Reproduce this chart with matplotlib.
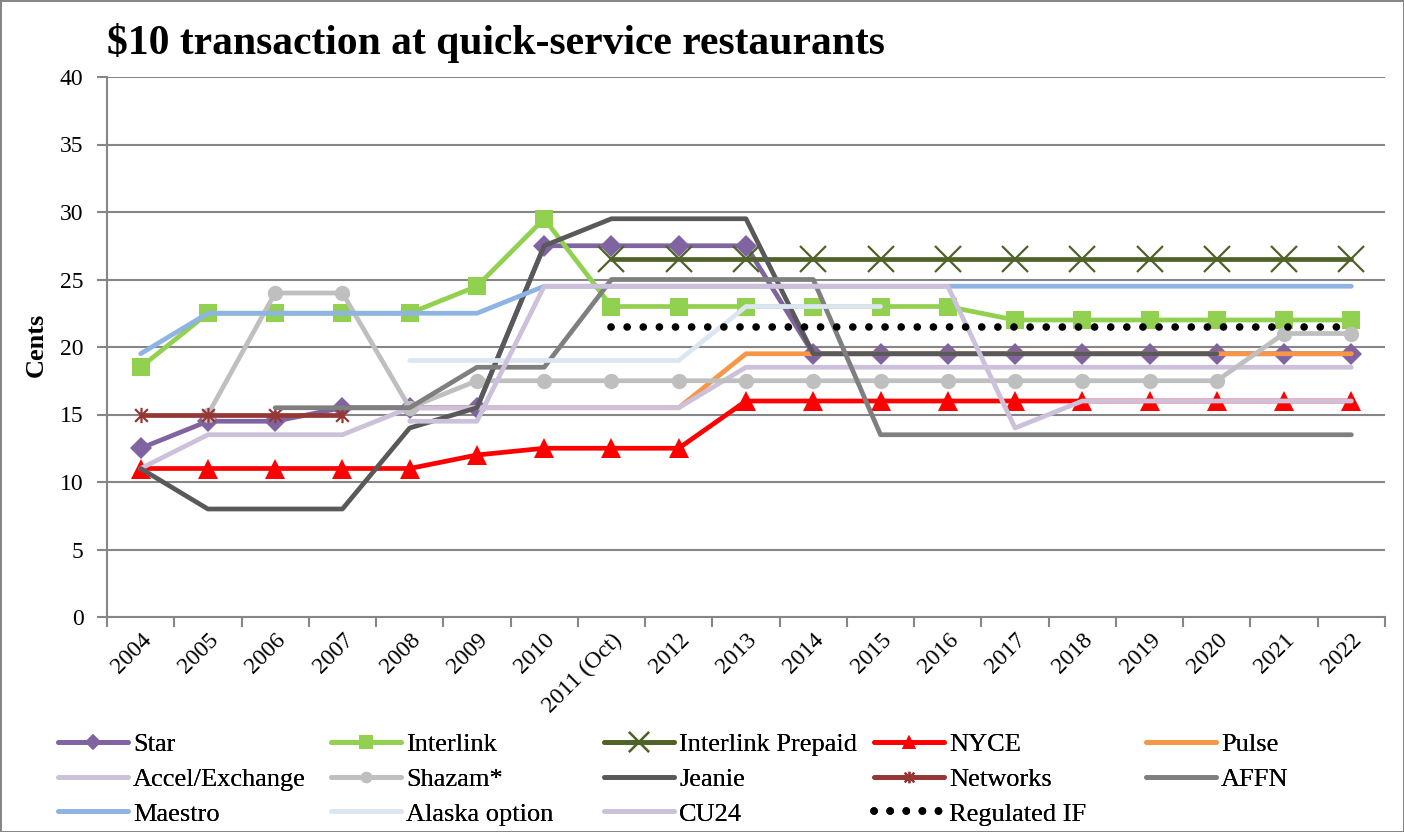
import matplotlib
matplotlib.use("Agg")
import matplotlib.pyplot as plt
from matplotlib.path import Path
import numpy as np

plt.rcParams["font.family"] = ["Liberation Serif", "DejaVu Serif"]

years = ["2004", "2005", "2006", "2007", "2008", "2009", "2010", "2011 (Oct)",
         "2012", "2013", "2014", "2015", "2016", "2017", "2018", "2019",
         "2020", "2021", "2022"]
N = np.nan

star = [12.5, 14.5, 14.5, 15.5, 15.5, 15.5, 27.5, 27.5, 27.5, 27.5, 19.5, 19.5, 19.5, 19.5, 19.5, 19.5, 19.5, 19.5, 19.5]
interlink = [18.5, 22.5, 22.5, 22.5, 22.5, 24.5, 29.5, 23, 23, 23, 23, 23, 23, 22, 22, 22, 22, 22, 22]
interlink_prepaid = [N, N, N, N, N, N, N, 26.5, 26.5, 26.5, 26.5, 26.5, 26.5, 26.5, 26.5, 26.5, 26.5, 26.5, 26.5]
nyce = [11, 11, 11, 11, 11, 12, 12.5, 12.5, 12.5, 16, 16, 16, 16, 16, 16, 16, 16, 16, 16]
pulse = [N, N, N, N, 15.5, 15.5, 15.5, 15.5, 15.5, 19.5, 19.5, 19.5, 19.5, 19.5, 19.5, 19.5, 19.5, 19.5, 19.5]
accel = [11, 13.5, 13.5, 13.5, 15.5, 15.5, 15.5, 15.5, 15.5, 18.5, 18.5, 18.5, 18.5, 18.5, 18.5, 18.5, 18.5, 18.5, 18.5]
shazam = [N, 15, 24, 24, 15.5, 17.5, 17.5, 17.5, 17.5, 17.5, 17.5, 17.5, 17.5, 17.5, 17.5, 17.5, 17.5, 21, 21]
jeanie = [11, 8, 8, 8, 14, 15.5, 27.5, 29.5, 29.5, 29.5, 19.5, 19.5, 19.5, 19.5, 19.5, 19.5, 19.5, N, N]
networks = [15, 15, 15, 15, N, N, N, N, N, N, N, N, N, N, N, N, N, N, N]
affn = [N, N, 15.5, 15.5, 15.5, 18.5, 18.5, 25, 25, 25, 25, 13.5, 13.5, 13.5, 13.5, 13.5, 13.5, 13.5, 13.5]
maestro = [19.5, 22.5, 22.5, 22.5, 22.5, 22.5, 24.5, 24.5, 24.5, 24.5, 24.5, 24.5, 24.5, 24.5, 24.5, 24.5, 24.5, 24.5, 24.5]
alaska = [N, N, N, N, 19, 19, 19, 19, 19, 23, 23, 23, N, N, N, N, N, N, N]
cu24 = [N, N, N, N, 14.5, 14.5, 24.5, 24.5, 24.5, 24.5, 24.5, 24.5, 24.5, 14, 16, 16, 16, 16, 16]
regulated_if = [N, N, N, N, N, N, N, 21.5, 21.5, 21.5, 21.5, 21.5, 21.5, 21.5, 21.5, 21.5, 21.5, 21.5, 21.5]

# Excel style "star" marker: an x with a vertical bar
star_marker = Path([(-1, -1), (1, 1), (-1, 1), (1, -1), (0, -1.2), (0, 1.2)],
                   [Path.MOVETO, Path.LINETO, Path.MOVETO, Path.LINETO, Path.MOVETO, Path.LINETO])

# name, values, color, marker, marker size
series = [
    ("Star", star, "#8064A2", "D", 11),
    ("Interlink", interlink, "#92D050", "s", 13.5),
    ("Interlink Prepaid", interlink_prepaid, "#4F6228", "x", 19),
    ("NYCE", nyce, "#FF0000", "^", 14),
    ("Pulse", pulse, "#F79646", None, 0),
    ("Accel/Exchange", accel, "#CCC0DA", None, 0),
    ("Shazam*", shazam, "#BFBFBF", "o", 11),
    ("Jeanie", jeanie, "#595959", None, 0),
    ("Networks", networks, "#953735", star_marker, 11),
    ("AFFN", affn, "#7F7F7F", None, 0),
    ("Maestro", maestro, "#8DB4E2", None, 0),
    ("Alaska option", alaska, "#DCE6F2", None, 0),
    ("CU24", cu24, "#CCC0DA", None, 0),
]

GRID = "#868686"

fig = plt.figure(figsize=(14.04, 8.32), dpi=100)
fig.patch.set_edgecolor(GRID)
fig.patch.set_linewidth(2)
ax = fig.add_axes([107 / 1404, 1 - 617 / 832, (1385 - 107) / 1404, (617 - 77) / 832])

x = np.arange(len(years))
handles = []
for i, (name, vals, col, mk, ms) in enumerate(series):
    thin = mk is star_marker or mk == "x"
    h, = ax.plot(x, vals, color=col, lw=3.4, marker=mk, markersize=ms,
                 markerfacecolor=col, markeredgecolor=col,
                 markeredgewidth=1.6 if thin else 0,
                 solid_capstyle="round", solid_joinstyle="round", zorder=3 + i,
                 label=name)
    handles.append(h)

h, = ax.plot(x, regulated_if, color="black", lw=5.5, linestyle=(0, (0.01, 2.1)),
             dash_capstyle="round", zorder=20, label="Regulated IF")
handles.append(h)

ax.set_xlim(-0.5, len(years) - 0.5)
ax.set_ylim(0, 40)
ax.set_yticks(np.arange(0, 41, 5))
ax.yaxis.grid(True, color=GRID, lw=1.5)
ax.set_axisbelow(True)
for s in ("top", "right"):
    ax.spines[s].set_visible(False)
for s in ("left", "bottom"):
    ax.spines[s].set_color(GRID)
    ax.spines[s].set_linewidth(1.5)

ax.set_xticks(x)
ax.set_xticklabels(years, rotation=45, ha="right", va="top", rotation_mode="anchor", fontsize=17)
ax.set_xticks(np.arange(-0.5, len(years), 1), minor=True)
ax.tick_params(axis="x", which="major", length=0, pad=9)
ax.tick_params(axis="x", which="minor", length=7, color=GRID, width=1.5)
ax.tick_params(axis="y", length=7, color=GRID, width=1.5, labelsize=17, pad=10)
ax.set_ylabel("Cents", fontsize=19, fontweight="bold")
ax.yaxis.set_label_coords(48 / 1404, 1 - 345 / 832, transform=fig.transFigure)

fig.text(107 / 1404, 1 - 43 / 832, "$10 transaction at quick-service restaurants",
         fontsize=30, fontweight="bold", ha="left", va="center")

# legend: 5 evenly spaced columns, filled row by row
col_x = [58, 331, 604, 874, 1146]
for c, cx in enumerate(col_x):
    hs = handles[c::5]
    lg = fig.legend(hs, [hh.get_label() for hh in hs], loc="upper left",
                    bbox_to_anchor=(cx / 1404, 1 - 733 / 832), frameon=False,
                    fontsize=19, handlelength=2.65, handletextpad=0.2,
                    labelspacing=0.42, borderpad=0, borderaxespad=0,
                    markerscale=0.75)
    fig.add_artist(lg)

fig.savefig("out.png", dpi=100)
